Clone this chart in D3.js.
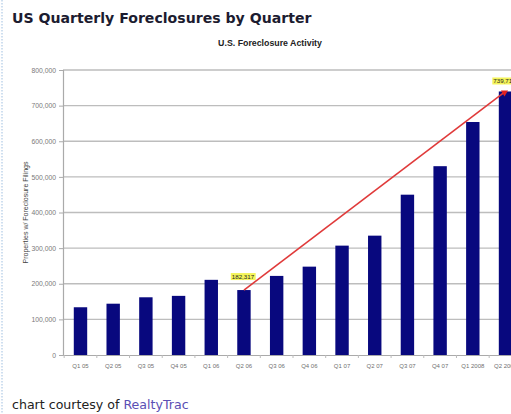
<!DOCTYPE html>
<html>
<head>
<meta charset="utf-8">
<script src="https://cdn.jsdelivr.net/npm/d3@7"></script>
<style>
  html, body { margin: 0; padding: 0; background: #fff; }
  svg { display: block; }
</style>
</head>
<body>
<svg id="chart" width="511" height="414"></svg>
<script>
// Quarterly foreclosure filings (RealtyTrac)
const quarters = ["Q1 05", "Q2 05", "Q3 05", "Q4 05", "Q1 06", "Q2 06", "Q3 06",
                  "Q4 06", "Q1 07", "Q2 07", "Q3 07", "Q4 07", "Q1 2008", "Q2 2008"];
const filings = [134000, 144000, 162000, 166000, 211000, 182317, 222000,
                 248000, 307000, 335000, 450000, 530000, 654000, 739714];
const yTicks = [0, 100000, 200000, 300000, 400000, 500000, 600000, 700000, 800000];
// Trend line drawn between these two quarters, with their values labelled
const trendFrom = "Q2 06";
const trendTo = "Q2 2008";

const svg = d3.select("#chart");

// page border on the left
svg.append("line")
  .attr("x1", 2).attr("x2", 2).attr("y1", 0).attr("y2", 414)
  .attr("stroke", "#9fbfe0").attr("stroke-width", 1)
  .attr("stroke-dasharray", "1.5,1.5");

// page heading
svg.append("text")
  .attr("x", 12).attr("y", 23)
  .attr("font-family", "DejaVu Sans, Verdana, sans-serif")
  .attr("font-weight", "bold").attr("font-size", 14.1)
  .attr("fill", "#1c1c30")
  .text("US Quarterly Foreclosures by Quarter");

const plotLeft = 63, plotRight = 523, plotTop = 70, plotBottom = 355;

const x = d3.scaleBand().domain(quarters).range([plotLeft, plotRight])
  .paddingInner(0.59).paddingOuter(0.33);
const y = d3.scaleLinear().domain([0, 800000]).range([plotBottom, plotTop]);

// chart title
svg.append("text")
  .attr("x", 270).attr("y", 46)
  .attr("text-anchor", "middle")
  .attr("font-family", "Liberation Sans, Arial, sans-serif")
  .attr("font-weight", "bold").attr("font-size", 8.8)
  .attr("fill", "#222")
  .text("U.S. Foreclosure Activity");

// horizontal gridlines
svg.append("g").selectAll("line")
  .data(yTicks.filter(d => d > 0))
  .join("line")
  .attr("x1", plotLeft).attr("x2", 520)
  .attr("y1", d => y(d)).attr("y2", d => y(d))
  .attr("stroke", "#bdbdbd").attr("stroke-width", 1.3);

// y axis
const yAxis = svg.append("g")
  .attr("transform", `translate(${plotLeft},0)`)
  .call(d3.axisLeft(y).tickValues(yTicks).tickSize(4).tickPadding(3)
    .tickFormat(d3.format(",")));
yAxis.select(".domain").attr("stroke", "#aaa").attr("stroke-width", 1.2);
yAxis.selectAll(".tick line").attr("stroke", "#aaa");
yAxis.selectAll(".tick text")
  .attr("font-family", "Liberation Sans, Arial, sans-serif")
  .attr("font-size", 6.8).attr("fill", "#7a7a7a");

// y axis title
svg.append("text")
  .attr("transform", `translate(28,${(plotTop + plotBottom) / 2}) rotate(-90)`)
  .attr("text-anchor", "middle")
  .attr("font-family", "Liberation Sans, Arial, sans-serif")
  .attr("font-size", 7).attr("fill", "#444")
  .text("Properties w/ Foreclosure Filings");

// bars
svg.append("g").selectAll("rect")
  .data(quarters)
  .join("rect")
  .attr("x", d => x(d))
  .attr("width", x.bandwidth())
  .attr("y", (d, i) => y(filings[i]))
  .attr("height", (d, i) => y(0) - y(filings[i]))
  .attr("fill", "#08087e");

// x axis
const xAxis = svg.append("g")
  .attr("transform", `translate(0,${plotBottom})`)
  .call(d3.axisBottom(x).tickSize(0).tickPadding(9));
xAxis.select(".domain").attr("stroke", "#aaa").attr("stroke-width", 1.2);
xAxis.selectAll(".tick text")
  .attr("font-family", "Liberation Sans, Arial, sans-serif")
  .attr("font-size", 6).attr("fill", "#6f6f6f");
// small ticks between categories
svg.append("g").selectAll("line")
  .data(quarters)
  .join("line")
  .attr("x1", d => x(d) - x.step() * x.paddingInner() / 2)
  .attr("x2", d => x(d) - x.step() * x.paddingInner() / 2)
  .attr("y1", plotBottom).attr("y2", plotBottom + 3)
  .attr("stroke", "#bbb");

// trend line between the two labelled quarters
const iFrom = quarters.indexOf(trendFrom), iTo = quarters.indexOf(trendTo);
const cx = q => x(q) + x.bandwidth() / 2;
svg.append("line")
  .attr("x1", cx(trendFrom)).attr("y1", y(filings[iFrom]))
  .attr("x2", cx(trendTo)).attr("y2", y(filings[iTo]))
  .attr("stroke", "#e03a3a").attr("stroke-width", 1.6);
svg.append("path")
  .attr("d", d3.symbol(d3.symbolTriangle, 22)())
  .attr("transform", `translate(${cx(trendTo) - 1},${y(filings[iTo]) + 1}) rotate(180)`)
  .attr("fill", "#e02020");

// value labels
[[iFrom, 11], [iTo, 8]].forEach(([i, gap]) => {
  const g = svg.append("g");
  const t = g.append("text")
    .attr("x", cx(quarters[i]) - 1)
    .attr("y", y(filings[i]) - gap)
    .attr("text-anchor", "middle")
    .attr("font-family", "Liberation Sans, Arial, sans-serif")
    .attr("font-size", 6.2).attr("fill", "#222")
    .text(d3.format(",")(filings[i]));
  const b = t.node().getBBox();
  g.insert("rect", "text")
    .attr("x", b.x - 1).attr("y", b.y)
    .attr("width", b.width + 2).attr("height", b.height)
    .attr("fill", "#f4f45a");
});

// source note
const note = svg.append("text")
  .attr("x", 12).attr("y", 409)
  .attr("font-family", "DejaVu Sans, Verdana, sans-serif")
  .attr("font-size", 12.6).attr("fill", "#222");
note.append("tspan").text("chart courtesy of ");
note.append("tspan").attr("fill", "#5b4fb4").text("RealtyTrac");
</script>
</body>
</html>
